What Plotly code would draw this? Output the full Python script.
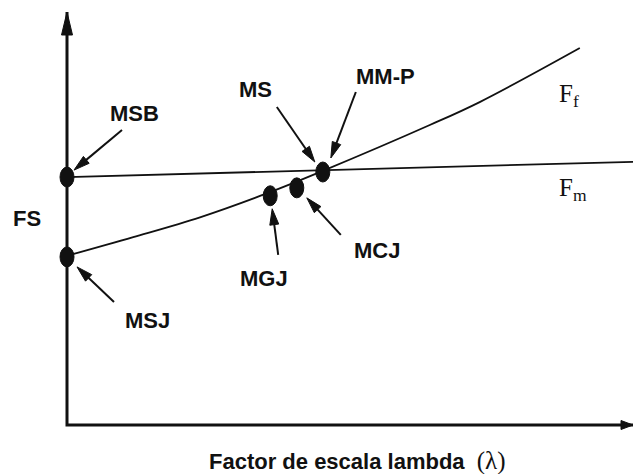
import math
import plotly.graph_objects as go

# ---- data -------------------------------------------------------------
# F_f: safety factor vs. lambda for the failure-surface curve
lam_ff = [0, 1.17, 2.35, 3.55, 4.52, 6.41, 7.30, 9.06]
fs_ff = [2.99, 3.32, 3.67, 4.10, 4.49, 5.30, 5.71, 6.66]

# F_m: moment-equilibrium line
lam_fm = [0, 10]
fs_fm = [4.38, 4.65]

# Methods placed on the curves
methods = ["MSB", "MSJ", "MGJ", "MCJ", "MM-P"]
lam_pts = [0, 0, 3.59, 4.06, 4.52]
fs_pts = [4.38, 2.97, 4.05, 4.19, 4.47]

# Callout labels and the method each one points at
callout_labels = ["MSB", "MSJ", "MGJ", "MCJ", "MS", "MM-P"]
callout_targets = ["MSB", "MSJ", "MGJ", "MCJ", "MM-P", "MM-P"]

curve_names = ["F<sub>f</sub>", "F<sub>m</sub>"]
x_title = "Factor de escala lambda"
y_title = "FS"

# ---- layout constants -------------------------------------------------
W, H = 633, 474
M = dict(l=67, r=0, t=12, b=49)
X_RANGE = [0, 10]
Y_RANGE = [0, 7.297]
INK = "#111111"
SANS = "Liberation Sans, Arial, sans-serif"
SERIF = "Liberation Serif, Times New Roman, serif"

# pixel offsets (screen, y down) of arrow tip / arrow tail / label centre
CALLOUT_GEOM = {
    "MSB": dict(tip=(7, -7), tail=(55, -47), text=(67, -64)),
    "MSJ": dict(tip=(10, 10), tail=(47, 45), text=(80, 64)),
    "MGJ": dict(tip=(2, 13), tail=(8, 59), text=(-6, 83)),
    "MCJ": dict(tip=(10, 10), tail=(44, 47), text=(80, 63)),
    "MS": dict(tip=(-8, -10), tail=(-46, -65), text=(-67, -83)),
    "MM-P": dict(tip=(8, -14), tail=(33, -80), text=(63, -96)),
}


def xdom(v):
    return (v - X_RANGE[0]) / (X_RANGE[1] - X_RANGE[0])


def ydom(v):
    return (v - Y_RANGE[0]) / (Y_RANGE[1] - Y_RANGE[0])


def pixel_anchor(xa, ya):
    return dict(xref="x domain", yref="y domain", xsizemode="pixel",
                ysizemode="pixel", xanchor=xa, yanchor=ya)


def arrow(xa, ya, tail, tip, head_len=16, head_w=9, width=2):
    sx, sy = tail[0], -tail[1]
    tx, ty = tip[0], -tip[1]
    dx, dy = tx - sx, ty - sy
    n = math.hypot(dx, dy)
    ux, uy = dx / n, dy / n
    bx, by = tx - ux * head_len, ty - uy * head_len
    px, py = -uy * head_w / 2, ux * head_w / 2
    anc = pixel_anchor(xa, ya)
    shaft = dict(type="line", x0=sx, y0=sy, x1=bx + ux * 2, y1=by + uy * 2,
                 line=dict(color=INK, width=width), **anc)
    head = dict(type="path",
                path=(f"M{tx:.2f},{ty:.2f} L{bx + px:.2f},{by + py:.2f} "
                      f"L{bx - px:.2f},{by - py:.2f} Z"),
                fillcolor=INK, line=dict(color=INK, width=1), **anc)
    return [shaft, head]


fig = go.Figure()
fig.add_trace(go.Scatter(x=lam_ff, y=fs_ff, mode="lines",
                         line=dict(color=INK, width=1.8, shape="spline", smoothing=1.0),
                         hoverinfo="skip", showlegend=False))
fig.add_trace(go.Scatter(x=lam_fm, y=fs_fm, mode="lines",
                         line=dict(color=INK, width=1.8),
                         hoverinfo="skip", showlegend=False))

shapes = []
# axes with arrowheads
shapes.append(dict(type="path", path="M0,1 L0,0 L1,0", xref="x domain", yref="y domain",
                   line=dict(color=INK, width=3), fillcolor="rgba(0,0,0,0)"))
shapes.append(dict(type="path", path="M0,0 L-5.5,-23 L5.5,-23 Z", fillcolor=INK,
                   line=dict(color=INK, width=1), **pixel_anchor(0, 1)))
shapes.append(dict(type="path", path="M0,0 L-12,4.5 L-12,-4.5 Z", fillcolor=INK,
                   line=dict(color=INK, width=1), **pixel_anchor(1, 0)))

# method markers (ellipses)
pos = {m: (xdom(x), ydom(y)) for m, x, y in zip(methods, lam_pts, fs_pts)}
for m in methods:
    xa, ya = pos[m]
    shapes.append(dict(type="circle", x0=-7, x1=7, y0=-10, y1=10, fillcolor=INK,
                       line=dict(color=INK, width=1), **pixel_anchor(xa, ya)))

annotations = []
val = dict(zip(methods, zip(lam_pts, fs_pts)))
for lab, tgt in zip(callout_labels, callout_targets):
    g = CALLOUT_GEOM[lab]
    xa, ya = pos[tgt]
    shapes += arrow(xa, ya, g["tail"], g["tip"])
    lx, ly = val[tgt]
    annotations.append(dict(x=lx, y=ly, xref="x", yref="y", text=lab, showarrow=False,
                            xshift=g["text"][0], yshift=-g["text"][1],
                            xanchor="center", yanchor="middle",
                            font=dict(family=SANS, size=22, color=INK, weight="bold")))

# curve names
plot_w = W - M["l"] - M["r"]
plot_h = H - M["t"] - M["b"]
annotations.append(dict(x=(557 - M["l"]) / plot_w, y=(425 - 95) / plot_h,
                        xref="x domain", yref="y domain", text=curve_names[0],
                        showarrow=False, xanchor="left", yanchor="middle",
                        font=dict(family=SERIF, size=25, color=INK)))
annotations.append(dict(x=(557 - M["l"]) / plot_w, y=(425 - 190) / plot_h,
                        xref="x domain", yref="y domain", text=curve_names[1],
                        showarrow=False, xanchor="left", yanchor="middle",
                        font=dict(family=SERIF, size=25, color=INK)))

# axis titles
annotations.append(dict(x=-40 / plot_w, y=(425 - 218) / plot_h, xref="x domain",
                        yref="y domain", text=y_title, showarrow=False,
                        xanchor="center", yanchor="middle",
                        font=dict(family=SANS, size=22, color=INK, weight="bold")))
annotations.append(dict(x=(357 - M["l"]) / plot_w, y=(425 - 461) / plot_h,
                        xref="x domain", yref="y domain",
                        text=(x_title + "  <span style='font-family:Liberation Serif;"
                              "font-weight:normal;font-size:25px'>(λ)</span>"),
                        showarrow=False, xanchor="center", yanchor="middle",
                        font=dict(family=SANS, size=22, color=INK, weight="bold")))

fig.update_layout(
    width=W, height=H, margin=M,
    paper_bgcolor="white", plot_bgcolor="white",
    xaxis=dict(range=X_RANGE, visible=False, fixedrange=True),
    yaxis=dict(range=Y_RANGE, visible=False, fixedrange=True),
    shapes=shapes, annotations=annotations, showlegend=False,
)

fig.write_html("out.html")
